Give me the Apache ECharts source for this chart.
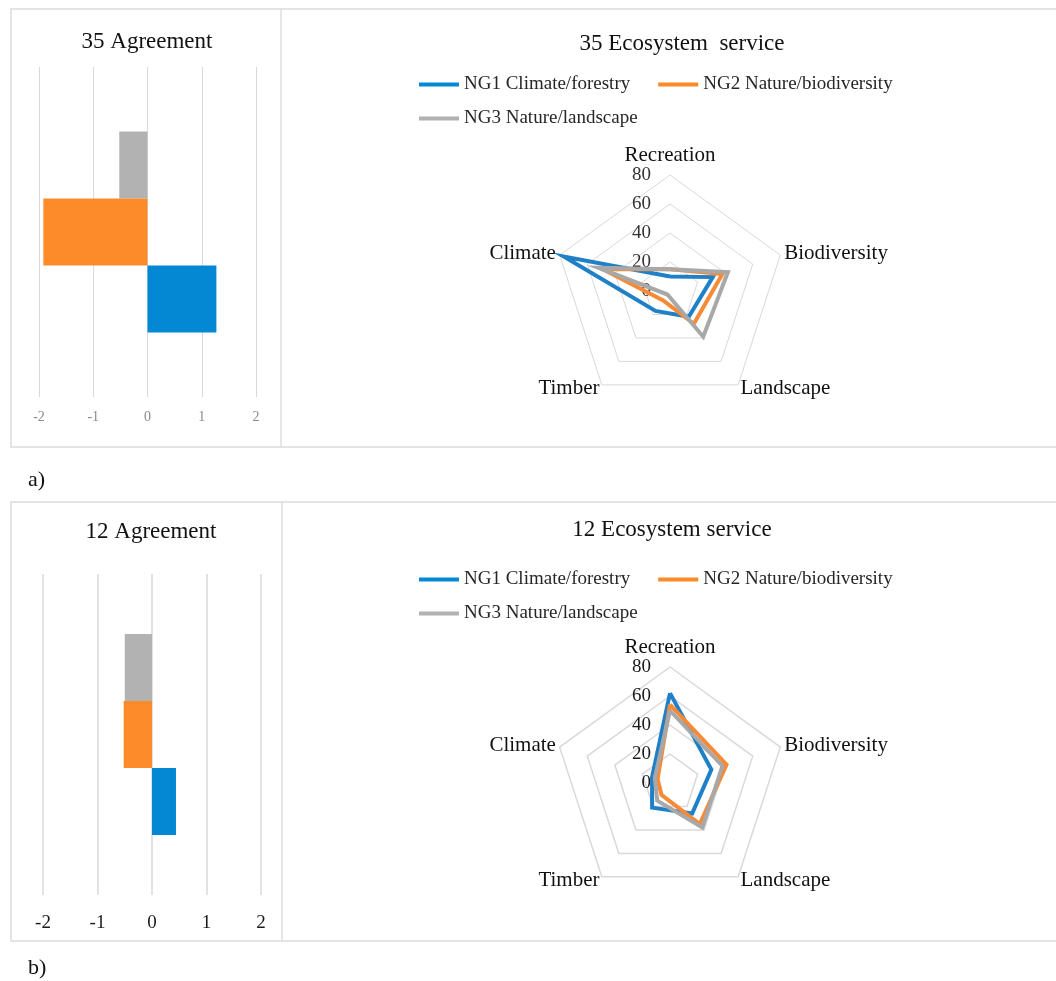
<!DOCTYPE html>
<html>
<head>
<meta charset="utf-8">
<script src="https://cdn.jsdelivr.net/npm/echarts@6/dist/echarts.min.js"></script>
<style>
  html, body { margin: 0; padding: 0; background: #ffffff; }
  #chart { width: 1056px; height: 981px; }
</style>
</head>
<body>
<div id="chart"></div>
<script>
// Groups compared in both panels
const groupNames = ['NG1 Climate/forestry', 'NG2 Nature/biodiversity', 'NG3 Nature/landscape'];

// Mean agreement score per group (panel a: 35, panel b: 12)
const agreementA = [1.27, -1.92, -0.52];
const agreementB = [0.44, -0.52, -0.50];
const agreementTicks = [-2, -1, 0, 1, 2];

// Ecosystem services, listed in the radar's counter-clockwise drawing order
const services = ['Recreation', 'Climate', 'Timber', 'Landscape', 'Biodiversity'];

// Ecosystem service scores per group, same order as `services`
const serviceA_NG1 = [10, 77, 17, 22, 31];
const serviceA_NG2 = [15, 49, 8, 28, 38];
const serviceA_NG3 = [15, 52, 3, 39, 42];
const serviceB_NG1 = [62, 13, 21, 26, 30];
const serviceB_NG2 = [54, 9, 10, 35, 41];
const serviceB_NG3 = [50, 11, 15, 38, 38];
const serviceMax = 80;

const FONT = '"Liberation Serif", "Times New Roman", serif';
const barColors = ['#0588d3', '#fd8b29', '#b2b2b2'];
const lineColors = ['#1f80c8', '#f68a37', '#a8a8a8'];
const GRID_LINE = '#d9d9d9';

const chart = echarts.init(document.getElementById('chart'), null, { renderer: 'canvas' });

function barSeries(values, gridIdx) {
  // the three groups as adjacent horizontal bars, NG3 on top
  return [2, 1, 0].map(function (g) {
    return {
      type: 'bar',
      name: groupNames[g],
      xAxisIndex: gridIdx,
      yAxisIndex: gridIdx,
      data: [values[g]],
      barWidth: 67,
      barGap: '0%',
      itemStyle: { color: barColors[g] },
      silent: true
    };
  });
}

function radarSeries(values, radarIdx) {
  return {
    type: 'radar',
    radarIndex: radarIdx,
    symbol: 'none',
    silent: true,
    data: values.map(function (v, g) {
      return {
        name: groupNames[g],
        value: v,
        lineStyle: { color: lineColors[g], width: 4, join: 'miter' },
        itemStyle: { color: lineColors[g] }
      };
    })
  };
}

function radarOpt(center, labelColor, splitWidth) {
  return {
    center: center,
    radius: 116,
    shape: 'polygon',
    splitNumber: 4,
    startAngle: 90,
    indicator: services.map(function (s, i) {
      const ind = { name: s, max: serviceMax, min: 0 };
      // scale values are written along the first (Recreation) spoke only
      if (i > 0) ind.axisLabel = { show: false };
      return ind;
    }),
    axisName: { color: '#111', fontFamily: FONT, fontSize: 21 },
    nameGap: 4,
    axisLine: { show: false },
    axisTick: { show: false },
    splitLine: { lineStyle: { color: GRID_LINE, width: splitWidth } },
    splitArea: { show: false },
    axisLabel: {
      show: true, color: labelColor, fontFamily: FONT, fontSize: 19, margin: 19
    }
  };
}

function legendRows(top1, top2) {
  const common = {
    icon: 'rect', itemWidth: 40, itemHeight: 4, itemGap: 28,
    textStyle: { fontFamily: FONT, fontSize: 19, color: '#262626' },
    selectedMode: false
  };
  return [
    Object.assign({ left: 414, top: top1, data: [groupNames[0], groupNames[1]] }, common),
    Object.assign({ left: 414, top: top2, data: [groupNames[2]] }, common)
  ];
}

function text(str, x, y, size, align) {
  return {
    type: 'text', x: x, y: y, silent: true,
    style: { text: str, font: size + 'px ' + FONT, fill: '#111', align: align || 'center', verticalAlign: 'middle' }
  };
}

const frame = { fill: 'none', stroke: '#dcdcdc', lineWidth: 1.5 };

const option = {
  animation: false,
  backgroundColor: '#ffffff',
  graphic: [
    // panel frames and dividers
    { type: 'rect', shape: { x: 11, y: 9, width: 1060, height: 438 }, style: frame, silent: true },
    { type: 'line', shape: { x1: 281, y1: 9, x2: 281, y2: 447 }, style: frame, silent: true },
    { type: 'rect', shape: { x: 11, y: 502, width: 1060, height: 439 }, style: frame, silent: true },
    { type: 'line', shape: { x1: 282, y1: 502, x2: 282, y2: 941 }, style: frame, silent: true },
    // titles
    text('35 Agreement', 147, 42, 23),
    text('35 Ecosystem  service', 682, 44, 23),
    text('12 Agreement', 151, 532, 23),
    text('12 Ecosystem service', 672, 530, 23),
    // panel letters
    text('a)', 28, 480, 22, 'left'),
    text('b)', 28, 968, 22, 'left')
  ],
  legend: legendRows(70, 104).concat(legendRows(565, 599)),
  grid: [
    { left: 39, top: 67, width: 217, height: 330 },
    { left: 43, top: 574, width: 218, height: 321 }
  ],
  xAxis: [
    {
      type: 'value', gridIndex: 0, min: agreementTicks[0], max: agreementTicks[agreementTicks.length - 1], interval: 1,
      axisLine: { show: false }, axisTick: { show: false },
      splitLine: { show: true, lineStyle: { color: GRID_LINE, width: 1 } },
      axisLabel: { color: '#8a8a8a', fontFamily: FONT, fontSize: 14, margin: 13 }
    },
    {
      type: 'value', gridIndex: 1, min: agreementTicks[0], max: agreementTicks[agreementTicks.length - 1], interval: 1,
      axisLine: { show: false }, axisTick: { show: false },
      splitLine: { show: true, lineStyle: { color: GRID_LINE, width: 1.5 } },
      axisLabel: { color: '#1a1a1a', fontFamily: FONT, fontSize: 19, margin: 19 }
    }
  ],
  yAxis: [
    { type: 'category', gridIndex: 0, data: [''], axisLine: { show: false }, axisTick: { show: false }, axisLabel: { show: false } },
    { type: 'category', gridIndex: 1, data: [''], axisLine: { show: false }, axisTick: { show: false }, axisLabel: { show: false } }
  ],
  radar: [
    radarOpt([670, 291], '#333333', 1),
    radarOpt([670, 783], '#1a1a1a', 1.5)
  ],
  series: [].concat(
    barSeries(agreementA, 0),
    barSeries(agreementB, 1),
    [
      radarSeries([serviceA_NG1, serviceA_NG2, serviceA_NG3], 0),
      radarSeries([serviceB_NG1, serviceB_NG2, serviceB_NG3], 1)
    ]
  )
};

chart.setOption(option);
</script>
</body>
</html>
